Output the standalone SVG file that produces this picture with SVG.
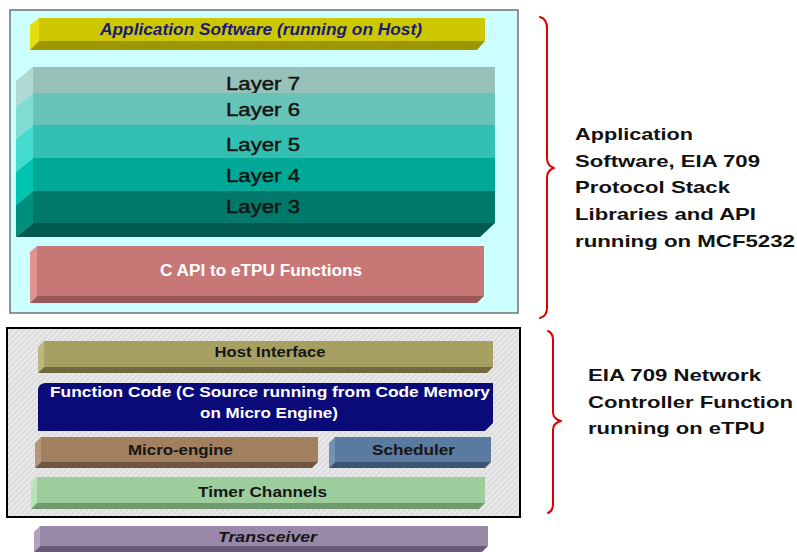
<svg xmlns="http://www.w3.org/2000/svg" width="797" height="552" viewBox="0 0 797 552">
<defs>
<pattern id="hatch" width="4" height="4" patternUnits="userSpaceOnUse" patternTransform="rotate(45)">
<rect width="4" height="4" fill="#dedede"/>
<line x1="0" y1="0" x2="0" y2="4" stroke="#f6f6f6" stroke-width="1.6"/>
</pattern>
</defs>
<style>
text{font-family:"Liberation Sans",Arial,sans-serif;}
.b{font-weight:bold;}
.i{font-style:italic;}
.c{text-anchor:middle;}
.dark{fill:#161616;}
.white{fill:#ffffff;}
.lay{font-size:17.5px;fill:#141414;stroke:#141414;stroke-width:0.45;text-anchor:middle;}
.bar{font-size:15px;font-weight:bold;text-anchor:middle;}
.side{font-size:17px;font-weight:bold;fill:#111;}
.brace{fill:none;stroke:#dd0000;stroke-width:2;stroke-linecap:round;stroke-linejoin:round;}
</style>
<rect width="797" height="552" fill="#ffffff"/>

<g id="host-software-box">
<rect x="10" y="10" width="508" height="303" fill="#ccffff" stroke="#707070" stroke-width="1.5"/>
</g>

<g id="app-software">
<rect x="39" y="18" width="446" height="23" fill="#cdc700"/>
<polygon points="30,25 39,18 39,41 30,50" fill="#e4de10"/>
<polygon points="30,50 39,41 485,41 477,50" fill="#9c9600"/>
<text x="261" y="35" class="b i c" font-size="16" fill="#1a1a78" textLength="322" lengthAdjust="spacingAndGlyphs">Application Software (running on Host)</text>
</g>

<g id="layer-stack">
<g id="layer7">
<rect x="33" y="67" width="462" height="26" fill="#97c2bb"/>
<polygon points="16,81 33,67 33,93 16,107" fill="#b2d8d2"/>
<text x="263" y="90" class="lay" textLength="74" lengthAdjust="spacingAndGlyphs">Layer 7</text>
</g>
<g id="layer6">
<rect x="33" y="93" width="462" height="32" fill="#68c3b8"/>
<polygon points="16,107 33,93 33,125 16,139" fill="#80dcd2"/>
<text x="263" y="116" class="lay" textLength="74" lengthAdjust="spacingAndGlyphs">Layer 6</text>
</g>
<g id="layer5">
<rect x="33" y="125" width="462" height="33" fill="#33c0b2"/>
<polygon points="16,139 33,125 33,158 16,172" fill="#45dcd0"/>
<text x="263" y="151" class="lay" textLength="74" lengthAdjust="spacingAndGlyphs">Layer 5</text>
</g>
<g id="layer4">
<rect x="33" y="158" width="462" height="33" fill="#00a898"/>
<polygon points="16,172 33,158 33,191 16,205" fill="#00c4b2"/>
<text x="263" y="182" class="lay" textLength="74" lengthAdjust="spacingAndGlyphs">Layer 4</text>
</g>
<g id="layer3">
<rect x="33" y="191" width="462" height="32" fill="#00786a"/>
<polygon points="16,205 33,191 33,223 16,237" fill="#008e7e"/>
<polygon points="16,237 33,223 495,223 480,237" fill="#005a50"/>
<text x="263" y="213" class="lay" textLength="74" lengthAdjust="spacingAndGlyphs">Layer 3</text>
</g>
</g>

<g id="c-api">
<rect x="37" y="246" width="447" height="50" fill="#c87777"/>
<polygon points="30,252 37,246 37,296 30,303" fill="#e29090"/>
<polygon points="30,303 37,296 484,296 477,303" fill="#985858"/>
<text x="261" y="276" class="b c white" font-size="16" textLength="202" lengthAdjust="spacingAndGlyphs">C API to eTPU Functions</text>
</g>

<g id="etpu-box">
<rect x="7" y="328" width="513" height="189" fill="url(#hatch)" stroke="#000000" stroke-width="2"/>
</g>

<g id="host-interface">
<rect x="44" y="341" width="449" height="26" fill="#a6a163"/>
<polygon points="38,347 44,341 44,367 38,373" fill="#bcb77c"/>
<polygon points="38,373 44,367 493,367 487,373" fill="#6f6b3e"/>
<text x="270" y="357" class="bar dark" textLength="111" lengthAdjust="spacingAndGlyphs">Host Interface</text>
</g>

<g id="function-code">
<path d="M46,383 L493,383 L493,423 L485,431 L38,431 L38,391 Q38,383 46,383 Z" fill="#0a0a78"/>
<text x="270" y="397" class="bar white" font-size="16" textLength="440" lengthAdjust="spacingAndGlyphs">Function Code (C Source running from Code Memory</text>
<text x="269" y="418" class="bar white" font-size="16" textLength="138" lengthAdjust="spacingAndGlyphs">on Micro Engine)</text>
</g>

<g id="micro-engine">
<rect x="41" y="437" width="277" height="25" fill="#a2805f"/>
<polygon points="35,443 41,437 41,462 35,468" fill="#b8967a"/>
<polygon points="35,468 41,462 318,462 312,468" fill="#6e5540"/>
<text x="180.5" y="455" class="bar dark" textLength="105" lengthAdjust="spacingAndGlyphs">Micro-engine</text>
</g>

<g id="scheduler">
<rect x="335" y="437" width="156" height="25" fill="#5a7aa0"/>
<polygon points="329,443 335,437 335,462 329,468" fill="#7492b6"/>
<polygon points="329,468 335,462 491,462 485,468" fill="#3c5474"/>
<text x="413.5" y="455" class="bar dark" textLength="83" lengthAdjust="spacingAndGlyphs">Scheduler</text>
</g>

<g id="timer-channels">
<rect x="37" y="477" width="448" height="26" fill="#9dcd9d"/>
<polygon points="31,483 37,477 37,503 31,509" fill="#b8e2b8"/>
<polygon points="31,509 37,503 485,503 479,509" fill="#6e9a6e"/>
<text x="262.5" y="497" class="bar dark" textLength="129" lengthAdjust="spacingAndGlyphs">Timer Channels</text>
</g>

<g id="transceiver">
<rect x="40" y="526" width="448" height="20" fill="#9a88a8"/>
<polygon points="34,532 40,526 40,546 34,552" fill="#b2a2be"/>
<polygon points="34,552 40,546 488,546 482,552" fill="#6a5a78"/>
<text x="267.5" y="542" class="bar dark i" textLength="99" lengthAdjust="spacingAndGlyphs">Transceiver</text>
</g>

<g id="connectors">
<path class="brace" d="M540,17 Q547,19 547,28 L547,158 Q547,166 554,168 Q547,170 547,178 L547,308 Q547,316 540,318"/>
<path class="brace" d="M548,331 Q553,333 553,340 L553,412 Q553,419 561,421 Q553,423 553,430 L553,504 Q553,511 548,513"/>
</g>

<g id="label-host">
<text x="575" y="140" class="side" textLength="118" lengthAdjust="spacingAndGlyphs">Application</text>
<text x="575" y="167" class="side" textLength="185" lengthAdjust="spacingAndGlyphs">Software, EIA 709</text>
<text x="575" y="193" class="side" textLength="155" lengthAdjust="spacingAndGlyphs">Protocol Stack</text>
<text x="575" y="220" class="side" textLength="181" lengthAdjust="spacingAndGlyphs">Libraries and API</text>
<text x="575" y="247" class="side" textLength="220" lengthAdjust="spacingAndGlyphs">running on MCF5232</text>
</g>

<g id="label-etpu">
<text x="588" y="381" class="side" textLength="173" lengthAdjust="spacingAndGlyphs">EIA 709 Network</text>
<text x="588" y="408" class="side" textLength="205" lengthAdjust="spacingAndGlyphs">Controller Function</text>
<text x="588" y="434" class="side" textLength="177" lengthAdjust="spacingAndGlyphs">running on eTPU</text>
</g>
</svg>
